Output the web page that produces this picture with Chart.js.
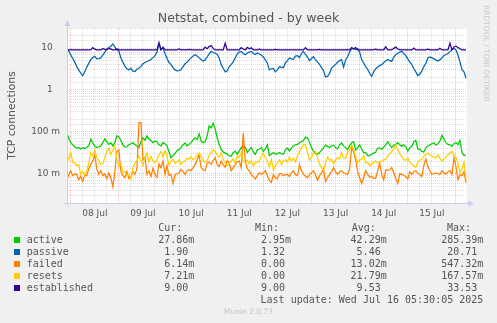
<!DOCTYPE html>
<html>
<head>
<meta charset="utf-8">
<script src="https://cdn.jsdelivr.net/npm/chart.js@4.4.0/dist/chart.umd.min.js"></script>
<style>
  html, body { margin: 0; padding: 0; background: #f0f0f0; }
  #wrap { position: relative; width: 497px; height: 323px; overflow: hidden; background: #f0f0f0; }
  #c { position: absolute; left: 0; top: 0; }
  .mono { position: absolute; font-family: 'DejaVu Sans Mono', monospace; font-size: 10px; line-height: 12px; color: #555; white-space: pre; }
  .sq { position: absolute; width: 6px; height: 6px; }
  #credit { position: absolute; left: 0; width: 497px; top: 307px; text-align: center; font-family: 'DejaVu Sans', sans-serif; font-size: 7.5px; line-height: 9px; color: #c4c4c4; }
  #side { position: absolute; left: 482px; top: 5px; writing-mode: vertical-rl; font-family: 'DejaVu Sans', sans-serif; font-size: 7.5px; line-height: 9px; color: #c8c8c8; white-space: nowrap; }
</style>
</head>
<body>
<div id="wrap">
  <canvas id="c" width="497" height="323"></canvas>
  <div id="legend"></div>
  <div id="credit">Munin 2.0.73</div>
  <div id="side">RRDTOOL / TOBI OETIKER</div>
</div>
<script>
// Hourly samples; the first one sits 2 hours before 08 Jul 00:00.
const firstHour = -2;

const active = [
  0.095, 0.072, 0.055, 0.049, 0.044, 0.041, 0.042, 0.039, 0.042, 0.040,
  0.043, 0.046, 0.066, 0.055, 0.045, 0.042, 0.044, 0.046, 0.055, 0.068,
  0.058, 0.050, 0.055, 0.046, 0.055, 0.080, 0.076, 0.062, 0.049, 0.043,
  0.044, 0.049, 0.052, 0.055, 0.050, 0.046, 0.042, 0.058, 0.072, 0.063,
  0.080, 0.066, 0.062, 0.055, 0.060, 0.058, 0.049, 0.046, 0.055, 0.052,
  0.046, 0.033, 0.024, 0.027, 0.030, 0.036, 0.038, 0.042, 0.049, 0.054,
  0.046, 0.050, 0.055, 0.064, 0.072, 0.066, 0.090, 0.060, 0.055, 0.058,
  0.080, 0.139, 0.124, 0.160, 0.118, 0.072, 0.049, 0.038, 0.033, 0.031,
  0.029, 0.027, 0.026, 0.032, 0.034, 0.029, 0.035, 0.042, 0.044, 0.043,
  0.032, 0.037, 0.042, 0.033, 0.029, 0.037, 0.039, 0.042, 0.034, 0.039,
  0.049, 0.027, 0.029, 0.032, 0.029, 0.030, 0.032, 0.030, 0.029, 0.037,
  0.041, 0.035, 0.041, 0.046, 0.049, 0.050, 0.055, 0.058, 0.062, 0.074,
  0.072, 0.056, 0.042, 0.034, 0.030, 0.029, 0.032, 0.036, 0.042, 0.048,
  0.045, 0.042, 0.046, 0.048, 0.042, 0.039, 0.049, 0.054, 0.046, 0.042,
  0.038, 0.046, 0.055, 0.058, 0.037, 0.042, 0.049, 0.039, 0.032, 0.032,
  0.027, 0.027, 0.029, 0.031, 0.033, 0.041, 0.041, 0.038, 0.043, 0.049,
  0.058, 0.049, 0.042, 0.048, 0.050, 0.055, 0.049, 0.045, 0.049, 0.044,
  0.035, 0.042, 0.045, 0.058, 0.062, 0.039, 0.038, 0.034, 0.033, 0.042,
  0.046, 0.049, 0.052, 0.055, 0.048, 0.052, 0.060, 0.083, 0.068, 0.055,
  0.050, 0.049, 0.045, 0.052, 0.055, 0.050, 0.062, 0.032, 0.027, 0.02786
];

const passive = [
  9.5, 8.5, 6.9, 5.6, 4.6, 3.6, 3.0, 2.5, 2.2, 2.7,
  3.5, 4.3, 5.3, 5.9, 6.3, 5.5, 5.6, 5.8, 6.8, 8.0,
  9.5, 10.3, 11, 12.5, 10.6, 9.0, 8.5, 5.8, 4.6, 3.7,
  3.2, 3.0, 3.3, 2.8, 2.75, 3.1, 3.3, 3.65, 4.2, 4.5,
  4.75, 5.0, 5.3, 5.9, 6.6, 8.0, 12.5, 9.1, 10, 7.4,
  5.6, 4.5, 4.0, 3.4, 3.0, 2.85, 2.9, 3.05, 3.6, 4.2,
  4.6, 5.2, 5.8, 6.45, 6.9, 6.45, 5.9, 5.3, 4.9, 5.2,
  6.1, 7.2, 8.3, 7.8, 7.6, 7.0, 5.8, 4.0, 3.3, 2.7,
  2.85, 3.6, 4.0, 4.75, 5.8, 7.2, 8.0, 8.3, 7.4, 6.9,
  7.6, 8.0, 8.3, 7.4, 7.0, 7.6, 7.2, 6.8, 6.1, 5.2,
  4.4, 3.0, 3.2, 3.25, 2.7, 3.0, 3.6, 3.5, 3.4, 4.4,
  5.0, 5.8, 5.5, 5.4, 6.45, 6.6, 5.9, 7.4, 8.3, 7.0,
  6.1, 5.0, 5.6, 6.2, 5.2, 4.6, 4.05, 3.4, 2.9, 2.05,
  2.1, 2.5, 3.3, 3.7, 4.05, 4.6, 5.0, 5.3, 3.5, 5.2,
  6.2, 8.0, 9.5, 9.7, 9.1, 9.7, 8.0, 5.3, 4.4, 3.6,
  3.1, 2.5, 2.1, 2.7, 3.2, 3.5, 3.8, 4.0, 4.5, 4.9,
  5.3, 5.0, 4.8, 6.1, 7.0, 7.4, 8.0, 8.3, 7.4, 6.6,
  5.5, 4.6, 4.0, 3.2, 2.7, 2.2, 2.4, 2.8, 3.6, 4.3,
  5.8, 6.1, 5.8, 5.5, 5.2, 4.9, 5.2, 5.8, 6.6, 7.0,
  7.4, 8.2, 9.1, 9.7, 9.0, 6.8, 4.6, 3.05, 2.7, 1.9
];

const failed = [
  0.0068, 0.0095, 0.0118, 0.009, 0.0097, 0.0096, 0.0072, 0.0086, 0.0065, 0.0095,
  0.009, 0.013, 0.0165, 0.020, 0.028, 0.013, 0.0096, 0.0118, 0.009, 0.010,
  0.0077, 0.0105, 0.008, 0.0049, 0.0112, 0.034, 0.037, 0.0112, 0.009, 0.0082,
  0.0112, 0.0077, 0.0082, 0.0112, 0.0097, 0.013, 0.165, 0.165, 0.0215, 0.025,
  0.0096, 0.0118, 0.0086, 0.0135, 0.0096, 0.0082, 0.0173, 0.0139, 0.020, 0.0096,
  0.0155, 0.009, 0.0096, 0.0058, 0.0095, 0.010, 0.0105, 0.0127, 0.0112, 0.0096,
  0.012, 0.0127, 0.0118, 0.0139, 0.0165, 0.0215, 0.028, 0.0139, 0.0124, 0.0118,
  0.018, 0.019, 0.0168, 0.0205, 0.024, 0.0165, 0.0148, 0.020, 0.0165, 0.0143,
  0.0205, 0.018, 0.0118, 0.0139, 0.0165, 0.019, 0.020, 0.0139, 0.095, 0.020,
  0.013, 0.0118, 0.0096, 0.0085, 0.0075, 0.009, 0.0105, 0.0096, 0.0105, 0.0118,
  0.009, 0.0068, 0.0062, 0.0095, 0.008, 0.0075, 0.010, 0.0101, 0.009, 0.0095,
  0.0096, 0.0086, 0.0105, 0.0118, 0.0095, 0.009, 0.0165, 0.012, 0.0096, 0.0088,
  0.008, 0.0095, 0.0105, 0.0118, 0.0095, 0.007, 0.009, 0.0105, 0.013, 0.0065,
  0.008, 0.0096, 0.0112, 0.0139, 0.0112, 0.0096, 0.0112, 0.0118, 0.0105, 0.010,
  0.0096, 0.013, 0.042, 0.033, 0.0215, 0.0112, 0.008, 0.0058, 0.008, 0.012,
  0.0096, 0.0082, 0.0086, 0.0077, 0.0077, 0.0118, 0.018, 0.0096, 0.0072, 0.0124,
  0.012, 0.0124, 0.0139, 0.0105, 0.0077, 0.0058, 0.010, 0.0096, 0.0092, 0.0085,
  0.0075, 0.0112, 0.0096, 0.0112, 0.0118, 0.0101, 0.0096, 0.0086, 0.0155, 0.0225,
  0.0148, 0.0118, 0.0096, 0.0101, 0.0105, 0.010, 0.0096, 0.0118, 0.0105, 0.0096,
  0.0112, 0.0118, 0.0096, 0.024, 0.0148, 0.0072, 0.0095, 0.009, 0.0112, 0.00614
];

const resets = [
  0.029, 0.022, 0.032, 0.019, 0.018, 0.0155, 0.0165, 0.0097, 0.0112, 0.0095,
  0.0118, 0.0173, 0.032, 0.027, 0.037, 0.024, 0.0205, 0.0168, 0.0173, 0.024,
  0.035, 0.041, 0.029, 0.037, 0.046, 0.0225, 0.0148, 0.0168, 0.0112, 0.0112,
  0.009, 0.0095, 0.0074, 0.0139, 0.018, 0.0205, 0.027, 0.020, 0.0155, 0.024,
  0.031, 0.019, 0.026, 0.0205, 0.018, 0.0215, 0.028, 0.034, 0.025, 0.035,
  0.026, 0.016, 0.020, 0.022, 0.0177, 0.019, 0.0215, 0.0168, 0.019, 0.020,
  0.0235, 0.022, 0.026, 0.0215, 0.0235, 0.027, 0.031, 0.026, 0.020, 0.019,
  0.0205, 0.028, 0.032, 0.037, 0.034, 0.028, 0.0245, 0.032, 0.022, 0.018,
  0.0153, 0.0177, 0.020, 0.0225, 0.0177, 0.027, 0.0245, 0.032, 0.020, 0.018,
  0.021, 0.0173, 0.020, 0.0155, 0.019, 0.0185, 0.020, 0.026, 0.031, 0.024,
  0.020, 0.0143, 0.022, 0.012, 0.0155, 0.018, 0.0215, 0.0168, 0.0205, 0.0215,
  0.019, 0.025, 0.020, 0.0235, 0.019, 0.027, 0.033, 0.042, 0.050, 0.050,
  0.032, 0.021, 0.024, 0.032, 0.035, 0.0235, 0.0173, 0.0139, 0.012, 0.018,
  0.025, 0.021, 0.022, 0.0173, 0.021, 0.0245, 0.0225, 0.032, 0.0235, 0.0235,
  0.033, 0.037, 0.048, 0.038, 0.026, 0.018, 0.0215, 0.022, 0.027, 0.018,
  0.019, 0.0155, 0.0168, 0.019, 0.020, 0.018, 0.019, 0.020, 0.0215, 0.022,
  0.026, 0.030, 0.034, 0.039, 0.049, 0.037, 0.030, 0.026, 0.0215, 0.021,
  0.0235, 0.019, 0.0168, 0.0153, 0.0143, 0.019, 0.021, 0.022, 0.026, 0.029,
  0.031, 0.028, 0.026, 0.0245, 0.024, 0.028, 0.0235, 0.020, 0.0225, 0.0245,
  0.028, 0.032, 0.034, 0.028, 0.024, 0.0185, 0.0105, 0.0128, 0.019, 0.00721
];

const established = [
  9, 9, 9, 9, 9, 9, 9, 9, 9, 9,
  9, 9, 9, 10.2, 9.4, 9, 9, 9, 9.6, 9.3,
  9, 9.8, 9.4, 9, 9, 9.5, 9, 9, 9, 9,
  9, 9, 9, 9, 9, 9, 9, 9, 9, 9,
  9, 9, 9, 9, 9, 9, 13.5, 9, 10.5, 9,
  9, 9, 9, 9, 9, 9, 9.5, 9, 9, 9,
  9, 9.3, 9, 9, 9, 9, 9, 9, 9, 10.5,
  9.6, 10.8, 11.5, 9.8, 9, 9, 9, 9, 9, 13,
  9, 9, 9, 9, 9, 9, 9, 10.2, 9.5, 9,
  10.4, 9.6, 10.1, 9, 9, 9, 9.4, 9, 9, 9,
  9, 9, 9, 9, 9.3, 9, 9, 9, 9, 9,
  9, 9, 9, 9, 9, 9, 9, 9, 9, 10.2,
  9, 9, 9, 9, 9, 9, 9.3, 9, 9, 9,
  9, 9, 9, 9, 9, 9, 9, 9, 9, 9,
  9, 9, 10.3, 9.6, 10.2, 9, 9, 9, 9, 9,
  9, 9, 9, 9, 9.4, 9, 9, 9, 9, 10.8,
  9, 9, 9, 9.8, 10.5, 9.5, 9, 9, 9, 9,
  9, 9, 9, 10.0, 9, 9, 9, 9, 9, 9,
  9.4, 9, 9, 9, 9, 9, 9.8, 9, 9, 9,
  9, 13.0, 9, 10.6, 11, 10.3, 9.6, 9, 9, 9
];

// Series names, colours and the summary columns printed under the graph.
const seriesNames = ['active', 'passive', 'failed', 'resets', 'established'];
const seriesColors = ['#00cc00', '#0066b3', '#ff8000', '#ffcc00', '#330099'];
const curValues = ['27.86m', '1.90 ', '6.14m', '7.21m', '9.00 '];
const minValues = ['2.95m', '1.32 ', '0.00 ', '0.00 ', '9.00 '];
const avgValues = ['42.29m', '5.46 ', '13.02m', '21.79m', '9.53 '];
const maxValues = ['285.39m', '20.71 ', '547.32m', '167.57m', '33.53 '];
const lastUpdate = 'Last update: Wed Jul 16 05:30:05 2025';

// Time axis: hours relative to 08 Jul 00:00; day labels sit at noon.
const dayLabels = ['08 Jul', '09 Jul', '10 Jul', '11 Jul', '12 Jul', '13 Jul', '14 Jul', '15 Jul'];
const xStart = -1.85;
const xEnd = 197.5;
const gridHours = [];
for (let h = 0; h <= 192; h += 6) gridHours.push(h);

// Log axis labels at each decade.
const decadeLabels = { '10': '10\u2002 ', '1': '1\u2002 ', '0.1': '100 m', '0.01': '10 m' };

const allSeries = [active, passive, failed, resets, established];
const hours = active.map((_, i) => firstHour + i);
const drawOrder = [4, 3, 2, 1, 0];

const MAJOR = 'rgba(240,140,140,0.55)';
const MINOR = 'rgba(190,190,190,0.5)';
const AXIS = '#c9cdee';

Chart.defaults.font.family = "'DejaVu Sans', sans-serif";

const isDecade = v => Math.abs(Math.log10(v) - Math.round(Math.log10(v))) < 1e-6;

const muninFrame = {
  id: 'muninFrame',
  beforeDraw(chart) {
    const a = chart.chartArea, ctx = chart.ctx;
    ctx.save();
    ctx.fillStyle = '#ffffff';
    ctx.fillRect(a.left, a.top, a.right - a.left, a.bottom - a.top);
    ctx.restore();
  },
  afterDraw(chart) {
    const a = chart.chartArea, ctx = chart.ctx;
    const x0 = Math.round(a.left) + 0.5, y0 = Math.round(a.bottom) + 0.5;
    ctx.save();
    ctx.strokeStyle = AXIS;
    ctx.fillStyle = AXIS;
    ctx.lineWidth = 1;
    ctx.beginPath();
    ctx.moveTo(x0, y0 + 3); ctx.lineTo(x0, a.top - 4);
    ctx.moveTo(x0 - 4, y0); ctx.lineTo(a.right + 3, y0);
    ctx.stroke();
    ctx.beginPath();
    ctx.moveTo(x0, a.top - 8); ctx.lineTo(x0 - 3, a.top - 2); ctx.lineTo(x0 + 3, a.top - 2); ctx.closePath();
    ctx.fill();
    ctx.beginPath();
    ctx.moveTo(a.right + 7, y0); ctx.lineTo(a.right + 1, y0 - 3); ctx.lineTo(a.right + 1, y0 + 3); ctx.closePath();
    ctx.fill();
    ctx.restore();
  }
};

new Chart(document.getElementById('c'), {
  type: 'line',
  data: {
    datasets: allSeries.map((vals, k) => ({
      label: seriesNames[k],
      data: vals.map((v, i) => ({ x: hours[i], y: v })),
      borderColor: seriesColors[k],
      backgroundColor: seriesColors[k],
      borderWidth: 1.25,
      pointRadius: 0,
      tension: 0,
      fill: false,
      order: drawOrder[k]
    }))
  },
  options: {
    responsive: false,
    animation: false,
    devicePixelRatio: 1,
    events: [],
    layout: { padding: { left: 0, right: 0, top: 0, bottom: 100 } },
    plugins: {
      legend: { display: false },
      tooltip: { enabled: false },
      title: {
        display: true,
        text: 'Netstat, combined - by week',
        color: '#555',
        font: { size: 12.6, weight: 'normal' },
        padding: { top: 11.5, bottom: 1.4 }
      }
    },
    scales: {
      x: {
        type: 'linear',
        min: xStart,
        max: xEnd,
        afterBuildTicks: s => { s.ticks = gridHours.map(v => ({ value: v })); },
        afterFit: s => { s.height = 20; },
        grid: {
          drawTicks: false,
          lineWidth: 1,
          color: c => (c.tick && c.tick.value % 24 === 0) ? MAJOR : MINOR
        },
        border: { display: false, dash: [1, 1] },
        ticks: {
          autoSkip: false,
          maxRotation: 0,
          padding: 5,
          color: '#555',
          font: { size: 9 },
          callback: v => (v % 24 === 12) ? dayLabels[Math.floor(v / 24)] : ''
        }
      },
      y: {
        type: 'logarithmic',
        min: 0.002,
        max: 30,
        afterFit: s => { s.width = 67; },
        grid: {
          drawTicks: false,
          lineWidth: 1,
          color: c => (c.tick && isDecade(c.tick.value)) ? MAJOR : MINOR
        },
        border: { display: false, dash: [1, 1] },
        ticks: {
          autoSkip: false,
          padding: 7,
          color: '#555',
          font: { size: 9 },
          callback: v => isDecade(v) ? (decadeLabels[String(+v.toPrecision(3))] || '') : ''
        },
        title: {
          display: true,
          text: 'TCP connections',
          color: '#555',
          font: { size: 10.8 },
          padding: { top: 6, bottom: 0 }
        }
      },
      yr: {
        type: 'linear',
        position: 'right',
        afterFit: s => { s.width = 30; },
        grid: { display: false },
        ticks: { display: false },
        border: { display: false }
      }
    }
  },
  plugins: [muninFrame]
});

// Summary table under the graph.
(function buildLegend() {
  const box = document.getElementById('legend');
  const W = 497;
  const put = (text, top, opts) => {
    const d = document.createElement('div');
    d.className = 'mono';
    d.textContent = text;
    d.style.top = top + 'px';
    if (opts.left !== undefined) d.style.left = opts.left + 'px';
    if (opts.right !== undefined) d.style.right = (W - opts.right) + 'px';
    box.appendChild(d);
  };
  const rowTop = i => 221.5 + 12 * i;
  put('Cur:', rowTop(0), { left: 158.3 });
  put('Min:', rowTop(0), { left: 255 });
  put('Avg:', rowTop(0), { left: 351.7 });
  put('Max:', rowTop(0), { left: 447 });
  seriesNames.forEach((name, i) => {
    const t = rowTop(i + 1);
    const sq = document.createElement('div');
    sq.className = 'sq';
    sq.style.left = '14px';
    sq.style.top = (t + 3.5) + 'px';
    sq.style.background = seriesColors[i];
    box.appendChild(sq);
    put(name, t, { left: 26.7 });
    put(curValues[i], t, { right: 194.3 });
    put(minValues[i], t, { right: 291 });
    put(avgValues[i], t, { right: 386.7 });
    put(maxValues[i], t, { right: 483.3 });
  });
  put(lastUpdate, rowTop(6), { right: 483.3 });
})();
</script>
</body>
</html>
